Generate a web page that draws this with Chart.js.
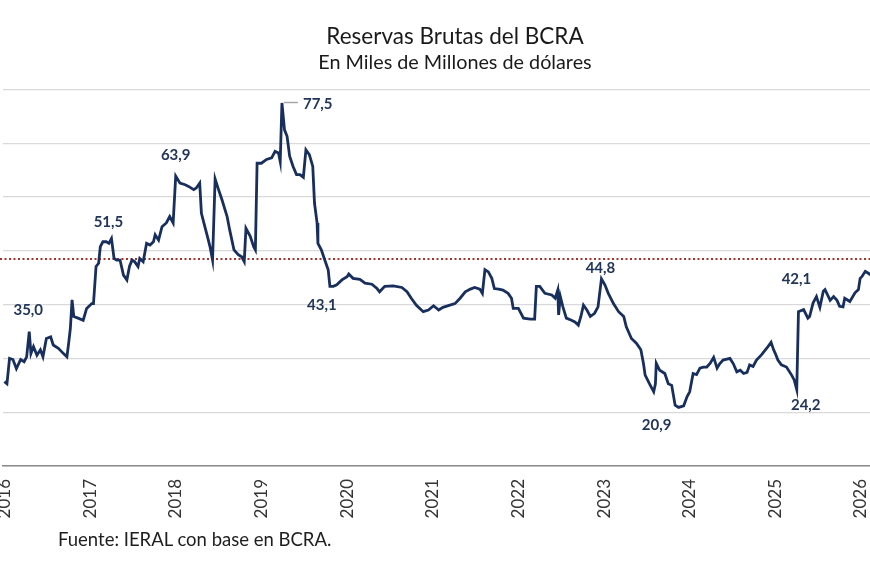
<!DOCTYPE html>
<html><head><meta charset="utf-8">
<script src="https://cdn.jsdelivr.net/npm/chart.js@4.4.0/dist/chart.umd.min.js"></script>
<style>
html,body{margin:0;padding:0;background:#fff;width:870px;height:580px;overflow:hidden;position:relative}
#wrap{position:absolute;left:-20px;top:0;width:950px;height:580px}
#fuente{position:absolute;left:58px;top:528px;font:18.5px Lato, sans-serif;color:#1e1e1e;white-space:nowrap}
</style></head><body>
<div id="wrap"><canvas id="c" width="950" height="580"></canvas></div>
<div id="fuente">Fuente: IERAL con base en BCRA.</div>
<script>
// ---- Data (decimal year, USD bn) ----
const dates = [2016.00,2016.03,2016.06,2016.10,2016.14,2016.19,2016.23,2016.26,2016.29,2016.31,2016.34,2016.38,2016.42,2016.45,2016.49,2016.54,2016.57,2016.63,2016.69,2016.73,2016.75,2016.77,2016.79,2016.81,2016.86,2016.92,2016.96,
2017.02,2017.04,2017.07,2017.10,2017.12,2017.15,2017.19,2017.22,2017.25,2017.28,2017.31,2017.35,2017.39,2017.43,2017.46,2017.49,2017.52,2017.56,2017.58,2017.62,2017.66,2017.70,2017.74,2017.76,2017.80,2017.84,2017.89,2017.93,2017.97,
2018.00,2018.05,2018.11,2018.15,2018.21,2018.24,2018.28,2018.30,2018.34,2018.37,2018.40,2018.43,2018.46,2018.50,2018.54,2018.60,2018.63,2018.68,2018.73,2018.77,2018.80,2018.82,2018.87,2018.91,2018.93,2018.95,
2019.00,2019.06,2019.12,2019.16,2019.20,2019.22,2019.24,2019.27,2019.30,2019.33,2019.37,2019.41,2019.45,2019.49,2019.52,2019.56,2019.60,2019.62,2019.65,2019.66,2019.70,2019.74,2019.78,2019.80,2019.84,2019.88,2019.94,
2020.00,2020.02,2020.07,2020.15,2020.21,2020.29,2020.35,2020.38,2020.44,2020.54,2020.64,2020.70,2020.75,2020.81,2020.89,2020.95,
2021.01,2021.07,2021.12,2021.20,2021.26,2021.32,2021.38,2021.44,2021.49,2021.55,2021.58,2021.61,2021.65,2021.69,2021.72,2021.77,2021.82,2021.88,2021.92,2021.94,
2022.00,2022.06,2022.14,2022.19,2022.21,2022.25,2022.31,2022.39,2022.43,2022.46,2022.47,2022.49,2022.52,2022.56,2022.62,2022.66,2022.70,2022.73,2022.76,2022.80,2022.84,2022.89,2022.93,2022.97,
2023.01,2023.05,2023.11,2023.17,2023.23,2023.26,2023.32,2023.38,2023.43,2023.46,2023.48,2023.53,2023.58,2023.60,2023.61,2023.65,2023.71,2023.75,2023.79,2023.83,2023.87,2023.93,2023.97,
2024.00,2024.04,2024.08,2024.12,2024.16,2024.20,2024.24,2024.28,2024.32,2024.35,2024.39,2024.47,2024.51,2024.55,2024.59,2024.63,2024.67,2024.70,2024.74,2024.78,2024.84,2024.90,2024.95,2024.98,
2025.00,2025.03,2025.07,2025.13,2025.19,2025.22,2025.25,2025.27,2025.33,2025.38,2025.40,2025.44,2025.48,2025.52,2025.56,2025.58,2025.64,2025.68,2025.72,2025.75,2025.79,2025.81,2025.87,2025.93,2025.97,2025.99,
2026.01,2026.05,2026.09,2026.11];
const reservas = [25.7,25.3,30.0,29.8,28.1,29.8,29.4,30.3,35.0,30.9,32.2,30.6,31.6,30.3,33.7,34.0,32.5,31.9,30.9,30.3,32.8,35.6,40.9,37.8,37.5,37.1,39.3,
40.2,40.2,47.1,47.7,50.8,51.7,51.7,51.4,52.3,48.6,48.3,48.3,45.5,44.6,47.1,48.3,48.0,47.1,48.6,48.0,51.4,51.1,51.7,53.0,52.0,54.5,55.2,56.4,55.2,
63.9,62.6,62.3,62.0,61.4,61.7,62.6,57.0,54.5,52.7,50.8,48.3,63.4,61.4,59.5,56.4,53.9,50.2,49.3,48.9,48.0,54.2,52.7,50.8,50.2,66.3,
66.3,67.0,67.3,68.5,68.2,66.6,77.5,72.5,71.3,67.6,65.7,64.2,64.2,63.7,68.8,67.9,65.7,58.9,55.2,51.4,50.2,48.3,46.5,43.4,43.4,43.7,44.6,
45.2,45.7,44.9,44.7,44.0,43.8,43.0,42.4,43.4,43.5,43.2,42.4,41.2,39.9,38.7,39.0,
39.8,39.0,39.5,39.9,40.2,41.2,42.4,42.9,43.2,42.9,42.1,46.5,46.1,44.9,43.0,42.9,42.7,42.1,41.2,39.3,
39.3,37.5,37.3,37.3,43.4,43.4,42.1,41.8,41.2,42.7,38.1,41.5,39.6,37.5,37.1,36.8,36.2,37.8,39.9,39.0,37.8,38.4,39.6,44.8,
43.7,42.1,40.2,38.7,37.8,35.9,33.7,32.8,31.6,29.1,26.9,25.3,23.8,25.3,29.1,27.8,27.2,25.3,25.0,21.3,20.9,21.2,22.9,
23.8,27.2,27.0,28.2,28.4,28.4,29.1,30.2,28.2,29.0,29.7,30.0,29.0,27.5,27.8,27.2,27.4,28.8,28.5,29.7,30.7,31.9,33.0,31.6,
30.9,29.7,28.8,28.4,26.9,26.0,24.2,38.7,39.1,37.5,37.8,40.3,41.5,39.5,42.5,42.8,40.8,41.5,40.8,39.7,39.6,41.2,40.6,42.2,42.8,44.9,
45.2,46.2,45.8,45.5];
const yearTicks = [2016,2017,2018,2019,2020,2021,2022,2023,2024,2025,2026];
const referenceLevel = 48.5;
const labelDates  = [2016.29, 2017.25, 2018.00, 2019.24, 2019.80, 2022.97, 2023.87, 2025.25, 2025.27];
const labelValues = [35.0, 51.5, 63.9, 77.5, 43.1, 44.8, 20.9, 24.2, 42.1];

const series = dates.map((d, i) => ({x: d, y: reservas[i]}));

const refLinePlugin = {
  id: 'refLine',
  beforeDatasetsDraw(chart, args, opts) {
    const {ctx, chartArea, scales: {y}} = chart;
    const py = y.getPixelForValue(referenceLevel);
    ctx.save();
    ctx.strokeStyle = opts.color;
    ctx.lineWidth = opts.width;
    ctx.setLineDash(opts.dash);
    ctx.beginPath();
    ctx.moveTo(chartArea.left - 3, py);
    ctx.lineTo(chartArea.right, py);
    ctx.stroke();
    ctx.restore();
  }
};

const peakLabelPlugin = {
  id: 'peakLabels',
  afterDatasetsDraw(chart, args, opts) {
    const {ctx, scales: {x, y}} = chart;
    ctx.save();
    ctx.font = opts.font;
    ctx.fillStyle = opts.color;
    ctx.textBaseline = 'middle';
    labelDates.forEach((d, i) => {
      const px = x.getPixelForValue(d);
      const py = y.getPixelForValue(labelValues[i]);
      const [dx, dy, align] = opts.offsets[i];
      ctx.textAlign = align || 'center';
      if (align === 'left') {
        ctx.save();
        ctx.strokeStyle = opts.leaderColor;
        ctx.lineWidth = 1.5;
        ctx.beginPath();
        ctx.moveTo(px + 2, py - 0.5);
        ctx.lineTo(px + dx - 5, py - 0.5);
        ctx.stroke();
        ctx.restore();
      }
      ctx.fillText(labelValues[i].toFixed(1).replace('.', ','), px + dx, py + dy);
    });
    ctx.restore();
  }
};

new Chart(document.getElementById('c'), {
  type: 'line',
  data: {
    datasets: [{
      data: series,
      borderColor: '#182f5e',
      borderWidth: 2.8,
      pointRadius: 0,
      tension: 0,
      fill: false
    }]
  },
  plugins: [refLinePlugin, peakLabelPlugin],
  options: {
    responsive: false,
    animation: false,
    layout: {padding: {left: 23, right: 23, top: 0, bottom: 54}},
    plugins: {
      legend: {display: false},
      tooltip: {enabled: false},
      title: {
        display: true,
        text: 'Reservas Brutas del BCRA',
        color: '#1a1a1a',
        font: {family: 'Lato', size: 22.5, weight: 'normal'},
        padding: {top: 23, bottom: 0}
      },
      subtitle: {
        display: true,
        text: 'En Miles de Millones de dólares',
        color: '#1a1a1a',
        font: {family: 'Lato', size: 19.8, weight: 'normal'},
        padding: {top: 0.5, bottom: 15.3}
      },
      refLine: {color: '#a8322a', width: 2, dash: [2, 2.5]},
      peakLabels: {
        font: 'bold 15px Lato',
        color: '#22365a',
        leaderColor: '#a6a6a6',
        offsets: [[-1, -21], [-3, -21], [0, -21], [21, 1.5, 'left'], [-8, 17], [-1, -11], [-22, 18], [9, 16], [-2, -14]]
      }
    },
    scales: {
      x: {
        type: 'linear',
        min: 2015.9837,
        max: 2026.537,
        afterBuildTicks: s => { s.ticks = yearTicks.map(v => ({value: v})); },
        afterFit: s => { s.height = 60; },
        grid: {display: false, drawTicks: false},
        border: {display: true, color: '#8a8a8a', width: 1.5},
        ticks: {
          autoSkip: false,
          minRotation: 90,
          maxRotation: 90,
          padding: 13,
          color: '#333333',
          font: {family: 'Lato', size: 17},
          callback: v => String(v)
        }
      },
      y: {
        min: 10,
        max: 80,
        afterFit: s => { s.width = 0; },
        ticks: {display: false, stepSize: 10},
        grid: {color: '#d9d9d9', lineWidth: 1.3, drawTicks: false},
        border: {display: false}
      }
    }
  }
});
</script>
</body></html>
